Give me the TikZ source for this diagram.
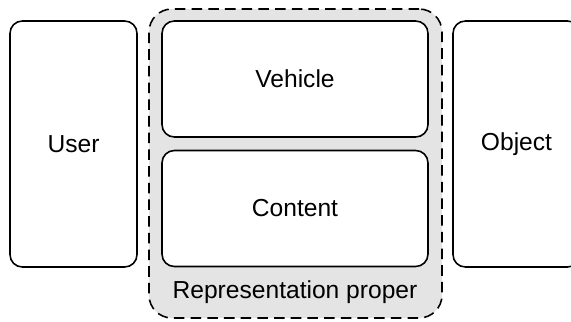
\documentclass[tikz,border=0pt]{standalone}
\usepackage{fontspec}
\setmainfont{Liberation Sans}
\usepackage{xcolor}
\usetikzlibrary{positioning}
\definecolor{repgray}{HTML}{E4E4E4}
\tikzset{
    box/.style={draw, line width=0.9pt, rounded corners=7pt, fill=white, inner sep=0pt},
    sidebox/.style={box, minimum width=2.54cm, minimum height=4.92cm},
    innerbox/.style={box, minimum width=5.32cm, minimum height=2.32cm},
    repbox/.style={draw, dashed, dash pattern=on 6pt off 3.5pt, line width=0.9pt, rounded corners=13pt, fill=repgray,
        minimum width=5.86cm, minimum height=6.18cm}
}

\begin{document}
\begin{tikzpicture}[x=0.02cm, y=-0.02cm, font=\fontsize{14}{16}\selectfont]
    \useasboundingbox (0,0) rectangle (571,321);
    \clip (0,0) rectangle (571,321);

    \node[repbox] (rep) at (295.5, 163.5) {};
    \node[sidebox] (user) at (73.5, 144) {User};
    \node[innerbox] (vehicle) at (295, 79) {Vehicle};
    \node[innerbox] (content) at (295, 208.5) {Content};
    \node[sidebox] (object) at (516.5, 144) {Object};
    \node (proper) at (295, 292) {Representation proper};
\end{tikzpicture}
\end{document}
